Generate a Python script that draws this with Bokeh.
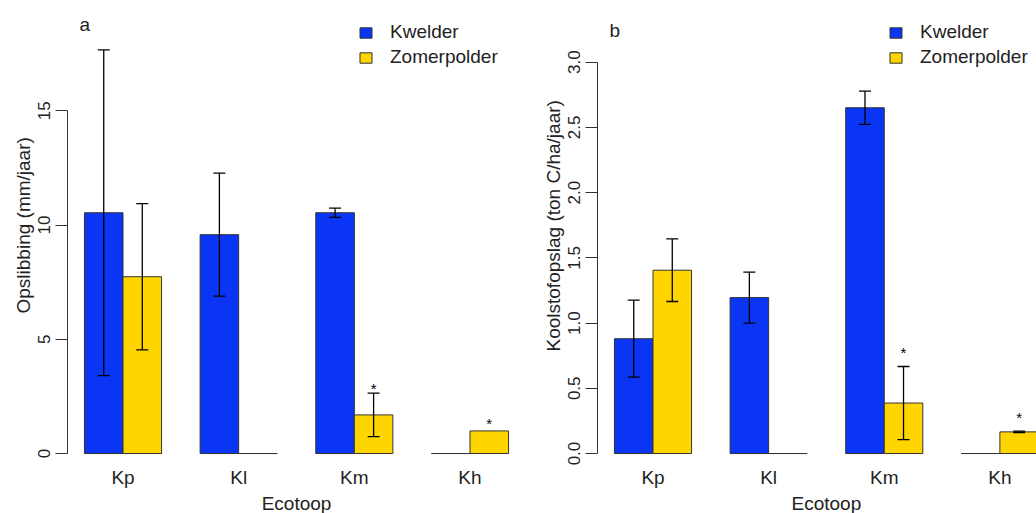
import math
import numpy as np
from bokeh.plotting import figure
from bokeh.models import (ColumnDataSource, Range1d, FixedTicker, Whisker, TeeHead,
                          Label, Legend, LegendItem, NumeralTickFormatter, Title)
from bokeh.layouts import row
from bokeh.embed import file_html
from bokeh.resources import INLINE
from bokeh.core.properties import value

# ---------------- data ----------------
ecotopes = ["Kp", "Kl", "Km", "Kh"]
series = ["Kwelder", "Zomerpolder"]

opslibbing_kwelder = [10.54, 9.58, 10.54, 0.0]
opslibbing_kwelder_err = [7.13, 2.69, 0.20, float("nan")]
opslibbing_zomer = [7.74, 0.0, 1.69, 0.99]
opslibbing_zomer_err = [3.20, float("nan"), 0.95, float("nan")]
opslibbing_star_y = [float("nan"), float("nan"), 2.97, 1.45]

koolstof_kwelder = [0.88, 1.195, 2.65, 0.0]
koolstof_kwelder_err = [0.295, 0.195, 0.128, float("nan")]
koolstof_zomer = [1.405, 0.0, 0.387, 0.166]
koolstof_zomer_err = [0.24, float("nan"), 0.28, 0.006]
koolstof_star_y = [float("nan"), float("nan"), 0.80, 0.30]

ticks_a = [0, 5, 10, 15]
ticks_b = [0.0, 0.5, 1.0, 1.5, 2.0, 2.5, 3.0]

BLUE = "#0a35f5"
GOLD = "#ffd500"
FONT = "Liberation Sans"
TXT = "#222222"


def panel(width, border_right, letter, ylab, kw, kw_err, zo, zo_err, star_y, yr, yticks,
          ybounds, xend, yfmt, letter_y, xlab_align, xlab_offset, ylab_offset):
    p = figure(width=width, height=513, output_backend="svg", toolbar_location=None,
               x_range=Range1d(0.56, xend), y_range=Range1d(*yr),
               min_border_left=67, min_border_right=border_right,
               min_border_top=0, min_border_bottom=43)
    p.grid.visible = False
    p.outline_line_color = None
    p.background_fill_color = "white"
    p.border_fill_color = "white"

    n = len(ecotopes)
    centers = np.arange(n) * 3 + 2.0
    x_kw = centers - 0.5
    x_zo = centers + 0.5

    src_kw = ColumnDataSource(dict(x=x_kw, top=kw))
    src_zo = ColumnDataSource(dict(x=x_zo, top=zo))
    r_kw = p.vbar(x="x", top="top", bottom=0, width=1.0, source=src_kw,
                  fill_color=BLUE, line_color="#333333", line_width=1)
    r_zo = p.vbar(x="x", top="top", bottom=0, width=1.0, source=src_zo,
                  fill_color=GOLD, line_color="#333333", line_width=1)

    # error bars
    for xs, m, e in ((x_kw, kw, kw_err), (x_zo, zo, zo_err)):
        xs2, up, lo = [], [], []
        for xx, mm, ee in zip(xs, m, e):
            if not math.isnan(ee):
                xs2.append(xx)
                up.append(mm + ee)
                lo.append(mm - ee)
        s = ColumnDataSource(dict(x=xs2, upper=up, lower=lo))
        w = Whisker(source=s, base="x", upper="upper", lower="lower", dimension="height",
                    line_color="black", line_width=1.3, level="overlay",
                    upper_head=TeeHead(size=12, line_color="black", line_width=1.3),
                    lower_head=TeeHead(size=12, line_color="black", line_width=1.3))
        p.add_layout(w)

    # significance stars
    sx, sy = [], []
    for xx, yy in zip(x_zo, star_y):
        if not math.isnan(yy):
            sx.append(xx)
            sy.append(yy)
    p.text(x=sx, y=sy, text=["*"] * len(sx), text_font=value(FONT), text_font_size="15px",
           text_align="center", text_baseline="middle", text_color="black", y_offset=3)

    # x axis: group labels only
    p.xaxis.ticker = FixedTicker(ticks=list(centers))
    p.xaxis.major_label_overrides = {float(c): e for c, e in zip(centers, ecotopes)}
    p.xaxis.axis_line_color = None
    p.xaxis.major_tick_line_color = None
    p.xaxis.minor_tick_line_color = None
    p.xaxis.major_tick_out = 0
    p.xaxis.major_tick_in = 0
    p.xaxis.major_label_standoff = -3
    p.xaxis.major_label_text_font = FONT
    p.xaxis.major_label_text_font_size = "19px"
    p.xaxis.major_label_text_color = TXT

    # y axis
    p.yaxis.ticker = FixedTicker(ticks=yticks)
    p.yaxis.bounds = ybounds
    p.yaxis.formatter = NumeralTickFormatter(format=yfmt)
    p.yaxis.major_label_orientation = "vertical"
    p.yaxis.major_tick_out = 12
    p.yaxis.major_tick_in = 0
    p.yaxis.minor_tick_line_color = None
    p.yaxis.major_label_standoff = 5
    p.yaxis.axis_line_color = "#333333"
    p.yaxis.major_tick_line_color = "#333333"
    p.yaxis.major_label_text_font = FONT
    p.yaxis.major_label_text_font_size = "17px"
    p.yaxis.major_label_text_color = TXT

    # axis titles
    p.add_layout(Title(text=ylab, align="left", offset=ylab_offset, standoff=4,
                       text_font=FONT, text_font_size="19px", text_font_style="normal",
                       text_color=TXT), "left")
    p.add_layout(Title(text="Ecotoop", align=xlab_align, offset=xlab_offset, standoff=0,
                       text_font=FONT, text_font_size="19px", text_font_style="normal",
                       text_color=TXT), "below")

    # legend
    legend = Legend(items=[LegendItem(label=series[0], renderers=[r_kw]),
                           LegendItem(label=series[1], renderers=[r_zo])],
                    location=(291, 401), glyph_width=15, glyph_height=13,
                    label_text_font=FONT, label_text_font_size="19px", label_text_color=TXT,
                    label_standoff=17, label_height=22, spacing=3, padding=0, margin=0,
                    border_line_color=None, background_fill_alpha=0)
    p.add_layout(legend)

    # panel letter
    p.add_layout(Label(x=79, y=letter_y, x_units="canvas", y_units="canvas", text=letter,
                       text_font=FONT, text_font_size="19px", text_color=TXT,
                       text_align="left", text_baseline="alphabetic"))
    return p


pa = panel(530, 5, "a", "Opslibbing (mm/jaar)", opslibbing_kwelder, opslibbing_kwelder_err,
           opslibbing_zomer, opslibbing_zomer_err, opslibbing_star_y,
           (-0.699, 19.83), ticks_a, (0, 15), 12.44, "0", 24, "center", 0, 156)
pb = panel(506, 0, "b", "Koolstofopslag (ton C/ha/jaar)", koolstof_kwelder, koolstof_kwelder_err,
           koolstof_zomer, koolstof_zomer_err, koolstof_star_y,
           (-0.1224, 3.472), ticks_b, (0, 3), 11.95, "0.0", 30, "left", 194, 118)

layout = row(pa, pb)
open("out.html", "w").write(file_html(layout, INLINE))
